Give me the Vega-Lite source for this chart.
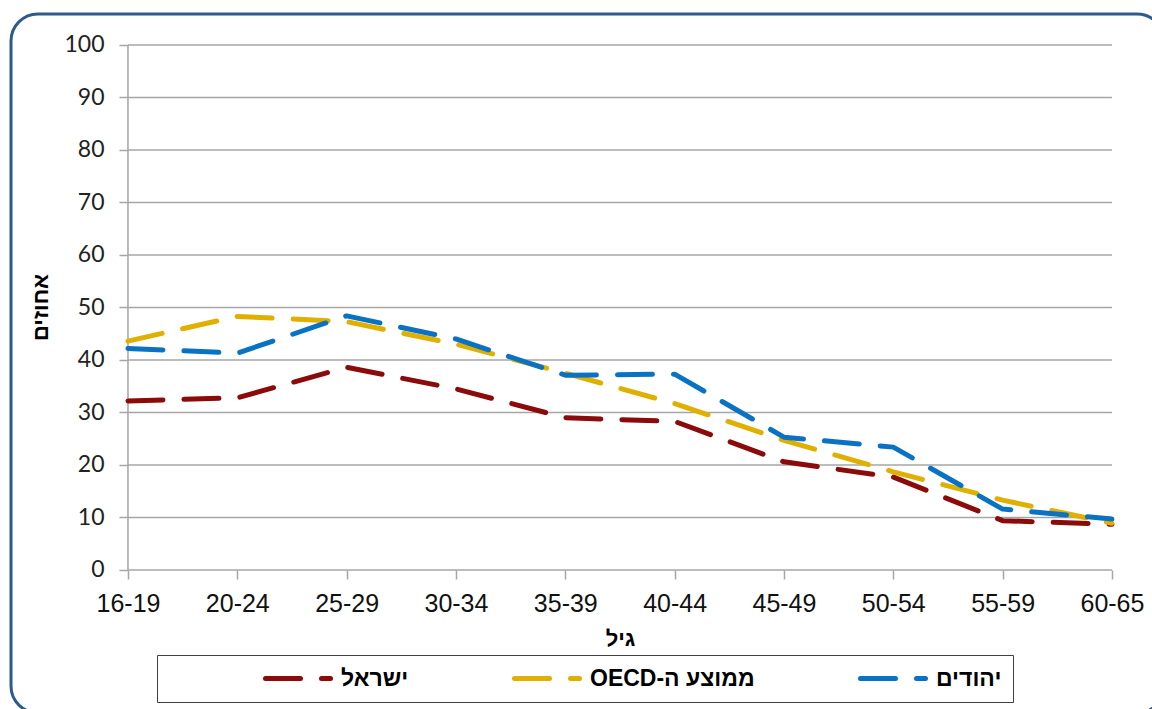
{
  "$schema": "https://vega.github.io/schema/vega-lite/v6.json",
  "width": 1153,
  "height": 699,
  "padding": {"left": 11, "top": 14, "right": 0, "bottom": 0},
  "autosize": {"type": "none"},
  "background": "white",
  "config": {
    "view": {"stroke": "#2E5A8C", "strokeWidth": 3, "cornerRadius": 27, "fill": "white"}
  },
  "resolve": {"axis": {"x": "independent", "y": "independent"}},
  "datasets": {
    "grid": [{"v": 0}, {"v": 10}, {"v": 20}, {"v": 30}, {"v": 40}, {"v": 50}, {"v": 60}, {"v": 70}, {"v": 80}, {"v": 90}, {"v": 100}],
    "vline": [{"age": "16-19", "lo": 0, "hi": 100}],
    "series": [
      {"age": "16-19", "series": "ישראל", "value": 32.2},
      {"age": "20-24", "series": "ישראל", "value": 32.8},
      {"age": "25-29", "series": "ישראל", "value": 38.6},
      {"age": "30-34", "series": "ישראל", "value": 34.5},
      {"age": "35-39", "series": "ישראל", "value": 29.0},
      {"age": "40-44", "series": "ישראל", "value": 28.3},
      {"age": "45-49", "series": "ישראל", "value": 20.6},
      {"age": "50-54", "series": "ישראל", "value": 17.7},
      {"age": "55-59", "series": "ישראל", "value": 9.4},
      {"age": "60-65", "series": "ישראל", "value": 8.7},
      {"age": "16-19", "series": "ממוצע ה-OECD", "value": 43.6},
      {"age": "20-24", "series": "ממוצע ה-OECD", "value": 48.3},
      {"age": "25-29", "series": "ממוצע ה-OECD", "value": 47.3},
      {"age": "30-34", "series": "ממוצע ה-OECD", "value": 43.0},
      {"age": "35-39", "series": "ממוצע ה-OECD", "value": 37.5},
      {"age": "40-44", "series": "ממוצע ה-OECD", "value": 31.7},
      {"age": "45-49", "series": "ממוצע ה-OECD", "value": 24.7},
      {"age": "50-54", "series": "ממוצע ה-OECD", "value": 18.7},
      {"age": "55-59", "series": "ממוצע ה-OECD", "value": 13.3},
      {"age": "60-65", "series": "ממוצע ה-OECD", "value": 8.9},
      {"age": "16-19", "series": "יהודים", "value": 42.2},
      {"age": "20-24", "series": "יהודים", "value": 41.3},
      {"age": "25-29", "series": "יהודים", "value": 48.4},
      {"age": "30-34", "series": "יהודים", "value": 44.0},
      {"age": "35-39", "series": "יהודים", "value": 37.1},
      {"age": "40-44", "series": "יהודים", "value": 37.3},
      {"age": "45-49", "series": "יהודים", "value": 25.3},
      {"age": "50-54", "series": "יהודים", "value": 23.4},
      {"age": "55-59", "series": "יהודים", "value": 11.6},
      {"age": "60-65", "series": "יהודים", "value": 9.7}
    ]
  },
  "layer": [
    {
      "data": {"name": "grid"},
      "mark": {"type": "rule", "color": "#A6A6A6", "strokeWidth": 1.5},
      "encoding": {
        "y": {"field": "v", "type": "quantitative", "scale": {"domain": [-27.24, 105.9], "nice": false, "zero": false}, "axis": null},
        "x": {"datum": "16-19", "type": "ordinal", "axis": null},
        "x2": {"datum": "60-65"}
      }
    },
    {
      "data": {"name": "vline"},
      "mark": {"type": "rule", "color": "#A6A6A6", "strokeWidth": 1.5},
      "encoding": {
        "x": {"field": "age", "type": "ordinal", "axis": null},
        "y": {"field": "lo", "type": "quantitative", "scale": {"domain": [-27.24, 105.9], "nice": false, "zero": false}, "axis": null},
        "y2": {"field": "hi"}
      }
    },
    {
      "data": {"name": "series"},
      "mark": {"type": "line", "strokeWidth": 5, "strokeDash": [35, 21], "strokeCap": "round", "strokeJoin": "round"},
      "encoding": {
        "x": {
          "field": "age", "type": "ordinal",
          "scale": {"type": "point", "domain": ["16-19", "20-24", "25-29", "30-34", "35-39", "40-44", "45-49", "50-54", "55-59", "60-65"], "padding": 0.773, "align": 0.692},
          "axis": {
            "title": "גיל", "offset": -143, "domain": false, "grid": false,
            "tickSize": 9, "tickColor": "#A6A6A6", "tickWidth": 1.5,
            "labelFont": "Liberation Sans", "labelFontSize": 25, "labelAngle": 0, "labelPadding": 12, "labelColor": "#111111", "labelOverlap": false,
            "titleFont": "Liberation Sans", "titleFontSize": 22, "titleFontWeight": "bold", "titleColor": "#000000",
            "titleX": 609, "titleY": 68, "titleBaseline": "middle", "titleAlign": "center"
          }
        },
        "y": {
          "field": "value", "type": "quantitative",
          "scale": {"domain": [-27.24, 105.9], "nice": false, "zero": false},
          "axis": {
            "title": "אחוזים", "values": [0, 10, 20, 30, 40, 50, 60, 70, 80, 90, 100],
            "offset": -117, "domain": false, "grid": false,
            "tickSize": 9, "tickColor": "#A6A6A6", "tickWidth": 1.5,
            "labelFont": "Lato", "labelFontSize": 23, "labelColor": "#222222", "labelPadding": 15,
            "titleFont": "Liberation Sans", "titleFontSize": 22, "titleFontWeight": "bold", "titleColor": "#000000",
            "titleAngle": -90, "titleX": -88, "titleY": 293, "titleAlign": "center", "titleBaseline": "middle"
          }
        },
        "color": {
          "field": "series", "type": "nominal",
          "scale": {"domain": ["ישראל", "ממוצע ה-OECD", "יהודים"], "range": ["#8B0A0A", "#E0B000", "#0A72C2"]},
          "legend": {
            "title": null, "orient": "none", "legendX": 146, "legendY": 641, "direction": "horizontal",
            "symbolType": "stroke", "symbolSize": 4900, "symbolStrokeWidth": 5, "symbolDash": [35, 21, 9, 100],
            "clipHeight": 25, "symbolOffset": 95, "labelOffset": 3, "columnPadding": 8, "padding": 11,
            "strokeColor": "#404040", "fillColor": "white",
            "labelFont": "Liberation Sans", "labelFontSize": 23, "labelFontWeight": "bold", "labelColor": "#000000", "labelLimit": 600,
            "labelExpr": "'\u202b' + datum.label + '\u202c' + (datum.label == 'יהודים' ? '\u00a0\u00a0\u00a0\u00a0\u00a0\u00a0\u00a0\u00a0\u00a0\u00a0\u00a0\u00a0' : '')",
            "encode": {
              "symbols": {"update": {"strokeCap": {"value": "round"}}}
            }
          }
        }
      }
    }
  ]
}
